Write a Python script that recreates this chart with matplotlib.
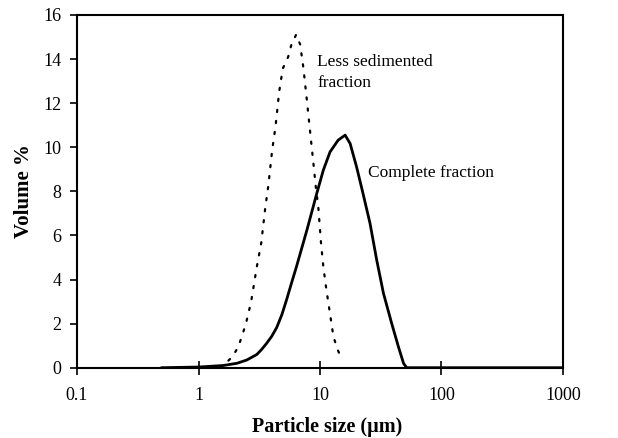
import matplotlib
matplotlib.use("Agg")
import matplotlib.pyplot as plt
import numpy as np

plt.rcParams['font.family'] = ['Liberation Serif', 'DejaVu Serif']

# Less sedimented fraction (dotted)
less_x = [1.5, 1.64, 1.90, 2.13, 2.45, 2.71, 3.02, 3.28, 3.54, 3.76, 4.04, 4.30, 4.61, 4.94,
          5.47, 5.8, 6.36, 6.86, 7.3, 7.65, 8.03, 8.4, 8.8, 9.2, 9.7, 10.2, 10.65, 11.3,
          12.1, 12.9, 13.9, 15.1]
less_y = [0.0, 0.15, 0.5, 0.95, 1.97, 2.99, 4.58, 5.64, 7.23, 8.28, 9.87, 10.92, 12.51, 13.57,
          14.1, 14.63, 15.11, 14.67, 13.6, 12.56, 11.45, 10.4, 9.34, 8.28, 7.23, 5.64, 4.58, 3.52,
          2.43, 1.41, 0.85, 0.38]

# Complete fraction (solid)
comp_x = [0.5, 1.0, 1.6, 2.07, 2.5, 3.02, 3.3, 3.63, 4.0, 4.4, 4.85, 5.3, 5.8, 6.4, 7.8, 9.4,
          10.65, 12.1, 14.1, 16.1, 17.7, 20.0, 22.6, 25.8, 29.3, 33.3, 38.9, 44.2, 48.7, 51.6,
          100, 1000]
comp_y = [0.0, 0.03, 0.1, 0.2, 0.35, 0.6, 0.82, 1.1, 1.42, 1.82, 2.4, 3.07, 3.8, 4.58, 6.24, 7.9,
          8.96, 9.79, 10.32, 10.55, 10.17, 9.11, 7.9, 6.55, 4.88, 3.37, 2.01, 0.95, 0.2, 0.0,
          0.0, 0.0]

x_ticks = [0.1, 1, 10, 100, 1000]
x_tick_labels = ["0.1", "1", "10", "100", "1000"]
y_ticks = [0, 2, 4, 6, 8, 10, 12, 14, 16]

fig = plt.figure(figsize=(6.18, 4.38), dpi=100)
ax = fig.add_axes([0.1246, 0.1605, 0.7864, 0.8053])

ax.plot(comp_x, comp_y, color='black', linewidth=2.0, solid_joinstyle='round')
ax.plot(less_x, less_y, color='black', linewidth=1.6, linestyle=(0, (1, 4)), dash_capstyle='round')

ax.set_xscale('log')
ax.set_xlim(0.1, 1000)
ax.set_ylim(0, 16)
ax.set_xticks(x_ticks)
ax.set_xticklabels(x_tick_labels)
ax.minorticks_off()
ax.set_yticks(y_ticks)
ax.tick_params(axis='x', direction='inout', length=10, width=1.2, labelsize=13, pad=9)
ax.tick_params(axis='y', direction='out', length=5, width=1.2, labelsize=13, pad=6)
for s in ax.spines.values():
    s.set_linewidth(1.5)

ax.set_xlabel('Particle size (µm)', fontsize=14.5, fontweight='bold', labelpad=9)
ax.xaxis.label.set_x(0.515)
ax.set_ylabel('Volume %', fontsize=15, fontweight='bold', labelpad=7)

ax.text(9.46, 13.4, 'Less sedimented\nfraction', fontsize=12.5, va='center', ha='left',
        linespacing=1.4)
ax.text(24.9, 8.83, 'Complete fraction', fontsize=12.5, va='center', ha='left')

fig.savefig('out.png', dpi=100)
